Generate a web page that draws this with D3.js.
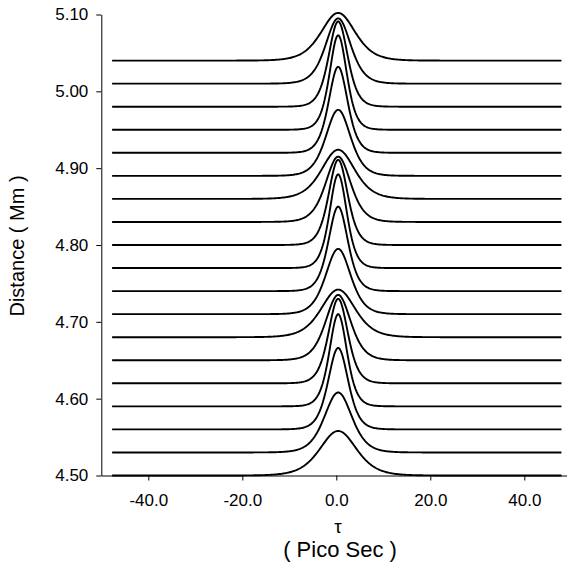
<!DOCTYPE html>
<html>
  <head>
    <meta charset="utf-8">
    <title>Pulse evolution</title>
    <script src="https://d3js.org/d3.v7.min.js"></script>
    <style>
      body { margin: 0; background: #fff; }
      svg { display: block; font-family: "Liberation Sans", Arial, sans-serif; }
      .axis path, .axis line { stroke: #000; stroke-width: 1; }
      .axis text { font-size: 17px; fill: #000; }
      .pulse { fill: none; stroke: #000; stroke-width: 1.9; }
    </style>
  </head>
  <body>
    <svg id="svg" width="567" height="566"></svg>
    <script>
      // data
      var distances = [4.50, 4.53, 4.56, 4.59, 4.62, 4.65, 4.68, 4.71, 4.74, 4.77,
                       4.80, 4.83, 4.86, 4.89, 4.92, 4.95, 4.98, 5.01, 5.04];
      // pulse peak height (in Mm units above its baseline)
      var peaks = [0.058, 0.078, 0.106, 0.120, 0.110, 0.085, 0.062, 0.085, 0.110, 0.122,
                   0.111, 0.085, 0.064, 0.086, 0.112, 0.123, 0.111, 0.085, 0.062];
      // pulse width (ps)
      var widths = [5.2, 3.9, 2.85, 2.5, 2.75, 3.55, 4.85, 3.55, 2.75, 2.45,
                    2.7, 3.55, 4.7, 3.5, 2.7, 2.45, 2.7, 3.55, 4.85];
      var centre = 0.4;
      var tauRange = [-47.7, 48];
      var xTicks = [-40, -20, 0, 20, 40];
      var yTicks = [4.5, 4.6, 4.7, 4.8, 4.9, 5.0, 5.1];

      svg = d3.select("#svg");
      x = d3.scaleLinear().domain([-50, 50]).range([101.3, 571.3]);
      y = d3.scaleLinear().domain([4.5, 5.1]).range([475.5, 14.5]);

      // axes
      svg.append("g")
          .attr("class", "axis")
          .attr("transform", "translate(0," + y(4.5) + ")")
          .call(d3.axisBottom(x).tickValues(xTicks).tickSize(5).tickSizeOuter(0).tickPadding(13)
            .tickFormat(function(d) { return d.toFixed(1); }));
      svg.append("g")
          .attr("class", "axis")
          .attr("transform", "translate(" + x(-50) + ",0)")
          .call(d3.axisLeft(y).tickValues(yTicks).tickSize(5).tickSizeOuter(0).tickPadding(8)
            .tickFormat(function(d) { return d.toFixed(2); }));

      // pulses: sech^2 shape
      taus = d3.range(tauRange[0], tauRange[1] + 0.001, 0.2);
      line = d3.line()
        .x(function(d) { return x(d[0]); })
        .y(function(d) { return y(d[1]); });
      svg.append("g")
        .selectAll(".pulse")
          .data(distances)
        .enter().append("path")
          .attr("class", "pulse")
          .attr("d", function(z, i) {
            return line(taus.map(function(t) {
              var s = 1 / Math.cosh((t - centre) / widths[i]);
              return [t, z + peaks[i] * s * s];
            }));
          });

      // labels
      svg.append("text")
        .attr("transform", "translate(17,246) rotate(-90)")
        .attr("text-anchor", "middle")
        .attr("dominant-baseline", "central")
        .style("font-size", "20px")
        .text("Distance ( Mm )");
      svg.append("text")
        .attr("x", 338).attr("y", 533)
        .attr("text-anchor", "middle")
        .style("font-size", "19px")
        .text("τ");
      svg.append("text")
        .attr("x", 340).attr("y", 557)
        .attr("text-anchor", "middle")
        .style("font-size", "22px")
        .text("( Pico Sec )");
    </script>
  </body>
</html>
